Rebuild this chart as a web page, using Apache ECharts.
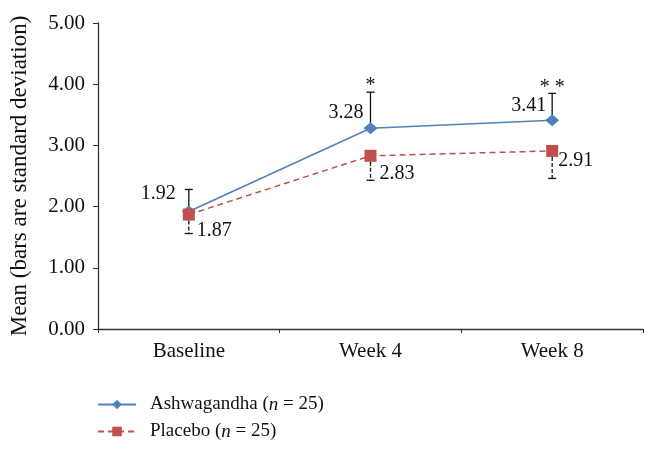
<!DOCTYPE html>
<html>
<head>
<meta charset="utf-8">
<script src="https://cdn.jsdelivr.net/npm/echarts@6/dist/echarts.min.js"></script>
<style>html,body{margin:0;padding:0;background:#fff;}#c{width:658px;height:454px;}</style>
</head>
<body>
<div id="c"></div>
<script>
// ---- data ----
const categories = ['Baseline', 'Week 4', 'Week 8'];
const ashwagandha = [1.92, 3.28, 3.41];
const ashwagandhaSD = [0.36, 0.59, 0.44];
const placebo = [1.87, 2.83, 2.91];
const placeboSD = [0.31, 0.40, 0.45];
const significance = ['', '*', '* *'];
const yTicks = [0, 1, 2, 3, 4, 5];

const FONT = '"Liberation Serif", "DejaVu Serif", serif';
const BLUE = '#4F81BD';
const RED = '#C0504D';

// label placement (style)
const blueLabelOffsets = [[-13, -18], [-7, -16], [-6, -15]];
const redLabelOffsets = [[8, 16], [9, 18], [6, 10]];

function errRender(means, sds, dir, dashed, sig) {
  return function (params, api) {
    const i = api.value(0);
    const m = means[i];
    const e = sds[i];
    const p0 = api.coord([i, m]);
    const p1 = api.coord([i, m + dir * e]);
    const cap = 4;
    const style = { stroke: '#111', lineWidth: 1.3 };
    if (dashed) style.lineDash = [4, 2];
    const children = [
      { type: 'line', shape: { x1: p0[0], y1: p0[1], x2: p1[0], y2: p1[1] }, style: style },
      { type: 'line', shape: { x1: p1[0] - cap, y1: p1[1], x2: p1[0] + cap, y2: p1[1] }, style: { stroke: '#111', lineWidth: 1.3 } }
    ];
    if (sig && sig[i]) {
      children.push({ type: 'text', style: { text: sig[i], x: p1[0], y: p1[1] + 4, align: 'center', verticalAlign: 'bottom', font: '20px ' + FONT, fill: '#111' } });
    }
    return { type: 'group', children: children };
  };
}

function makeData(vals, offs) {
  return vals.map((v, i) => ({ value: v, label: { offset: offs[i] } }));
}

const chart = echarts.init(document.getElementById('c'));
chart.setOption({
  animation: false,
  backgroundColor: '#fff',
  grid: { left: 97, right: 15, top: 23, bottom: 125, containLabel: false },
  xAxis: {
    type: 'category',
    data: categories,
    boundaryGap: true,
    axisLine: { lineStyle: { color: '#333', width: 1.3 } },
    axisTick: { show: true, length: 4, lineStyle: { color: '#333' } },
    axisLabel: { fontFamily: FONT, fontSize: 21, color: '#111', margin: 12 }
  },
  yAxis: {
    type: 'value',
    min: yTicks[0], max: yTicks[yTicks.length - 1], interval: 1,
    name: 'Mean (bars are standard deviation)',
    nameLocation: 'middle', nameGap: 67,
    nameTextStyle: { fontFamily: FONT, fontSize: 23, color: '#111' },
    axisLine: { show: true, lineStyle: { color: '#333', width: 1.3 } },
    axisTick: { show: true, length: 5, lineStyle: { color: '#333' } },
    splitLine: { show: false },
    axisLabel: { fontFamily: FONT, fontSize: 21, color: '#111', margin: 13, formatter: v => v.toFixed(2) }
  },
  legend: {
    orient: 'vertical', left: 97, top: 395, padding: 0,
    itemWidth: 38, itemHeight: 12, itemGap: 8,
    data: ['Ashwagandha', 'Placebo'],
    textStyle: {
      fontFamily: FONT, fontSize: 19, color: '#111', padding: [0, 0, 0, 9],
      rich: {
        a: { fontFamily: FONT, fontSize: 19, color: '#111' },
        i: { fontFamily: FONT, fontSize: 19, color: '#111', fontStyle: 'italic' }
      }
    },
    formatter: name => '{a|' + name + ' (}{i|n}{a| = 25)}'
  },
  series: [
    {
      name: 'Ashwagandha', type: 'line', data: makeData(ashwagandha, blueLabelOffsets),
      symbol: 'diamond', symbolSize: [14, 12], z: 3,
      itemStyle: { color: BLUE },
      lineStyle: { color: BLUE, width: 1.5 },
      label: { show: true, position: 'inside', align: 'right', verticalAlign: 'middle',
        fontFamily: FONT, fontSize: 20, color: '#111', formatter: p => p.value.toFixed(2) }
    },
    {
      name: 'Placebo', type: 'line', data: makeData(placebo, redLabelOffsets),
      symbol: 'rect', symbolSize: 12, z: 4,
      itemStyle: { color: RED },
      lineStyle: { color: RED, width: 1.5, type: [6, 4] },
      label: { show: true, position: 'inside', align: 'left', verticalAlign: 'middle',
        fontFamily: FONT, fontSize: 20, color: '#111', formatter: p => p.value.toFixed(2) }
    },
    {
      name: 'errA', type: 'custom', z: 2, silent: true,
      data: categories.map((c, i) => [i]),
      renderItem: errRender(ashwagandha, ashwagandhaSD, 1, false, significance)
    },
    {
      name: 'errP', type: 'custom', z: 2, silent: true,
      data: categories.map((c, i) => [i]),
      renderItem: errRender(placebo, placeboSD, -1, true, null)
    }
  ]
});
</script>
</body>
</html>
